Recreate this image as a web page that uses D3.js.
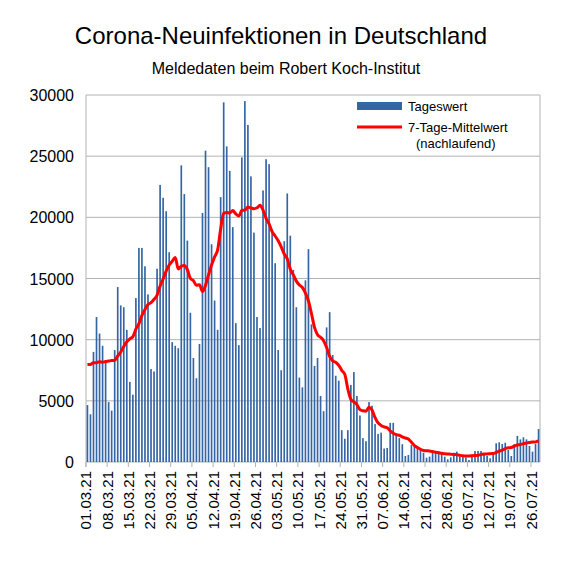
<!DOCTYPE html>
<html><head><meta charset="utf-8">
<script src="https://cdn.jsdelivr.net/npm/d3@7"></script>
<style>body{margin:0;background:#fff}svg{font-family:"Liberation Sans",Arial,sans-serif}</style>
</head><body><svg id="c" width="567" height="567"></svg>
<script>
// 6 days before 01.03.21 (for trailing 7-day mean)
const prevDays = [3883, 8007, 11869, 9997, 9762, 7676];
// daily values from 01.03.21
const daily = [4650,3900,9000,11850,10500,9500,8100,4900,4200,9150,14300,12800,12650,10800,6550,5500,
13400,17500,17500,16000,13700,7600,7400,15800,22650,21600,20500,17150,9800,9500,9300,24250,21900,18100,
12200,8500,6850,9650,20350,25450,24100,17800,13200,10800,21650,29400,25800,23800,19200,11350,9550,
24900,29500,27550,23350,18750,11850,10950,22200,24750,24350,18950,16250,9150,7500,18050,21950,18500,
15700,12650,6900,6100,14850,17400,11250,7850,8500,5400,4150,11000,12250,8750,7050,6650,2600,1900,2600,
6300,7350,5400,3800,1950,1700,4900,4600,3100,2300,2400,1100,1150,3200,3200,2300,1950,1450,490,570,1380,
1250,1170,980,760,350,440,980,900,850,710,440,220,380,760,850,440,440,380,160,570,900,900,900,710,490,
300,650,1530,1610,1470,1580,980,490,1470,2130,1850,2020,1850,1310,850,1470,2690];
const tickLabels = ["01.03.21","08.03.21","15.03.21","22.03.21","29.03.21","05.04.21","12.04.21","19.04.21",
"26.04.21","03.05.21","10.05.21","17.05.21","24.05.21","31.05.21","07.06.21","14.06.21","21.06.21",
"28.06.21","05.07.21","12.07.21","19.07.21","26.07.21"];
const yTicks = [0,5000,10000,15000,20000,25000,30000];

const all = prevDays.concat(daily);
const mean = daily.map((d,i)=>d3.mean(all.slice(i,i+7)));

const svg = d3.select("#c");
const L=86,R=540,T=95,B=462;
const x = d3.scaleBand().domain(d3.range(daily.length)).range([L,R]).paddingInner(0.45).paddingOuter(0.2);
const y = d3.scaleLinear().domain([0,30000]).range([B,T]);

svg.append("g").selectAll("line").data(yTicks).join("line")
 .attr("x1",L).attr("x2",R).attr("y1",d=>y(d)).attr("y2",d=>y(d)).attr("stroke","#b3b3b3");
svg.append("line").attr("x1",L).attr("x2",L).attr("y1",T).attr("y2",B+5).attr("stroke","#b3b3b3");
svg.append("line").attr("x1",R).attr("x2",R).attr("y1",T).attr("y2",B).attr("stroke","#b3b3b3");
svg.append("g").selectAll("text").data(yTicks).join("text")
 .attr("x",L-12).attr("y",d=>y(d)+6).attr("text-anchor","end").attr("font-size",16).text(d=>d);

svg.append("g").selectAll("rect").data(daily).join("rect")
 .attr("x",(d,i)=>x(i)).attr("width",x.bandwidth()).attr("y",d=>y(d)).attr("height",d=>B-y(d))
 .attr("fill","#3465a4");

const cx = i=>x(i)+x.bandwidth()/2;
svg.append("g").selectAll("line").data(tickLabels).join("line")
 .attr("x1",(d,i)=>cx(i*7)-1.5).attr("x2",(d,i)=>cx(i*7)-1.5).attr("y1",B).attr("y2",B+5).attr("stroke","#b3b3b3");
svg.append("g").selectAll("text").data(tickLabels).join("text")
 .attr("transform",(d,i)=>`translate(${cx(i*7)+4},${B+9}) rotate(-90)`)
 .attr("text-anchor","end").attr("font-size",15).text(d=>d);

svg.append("path").datum(mean).attr("fill","none").attr("stroke","#ff0000").attr("stroke-width",3)
 .attr("stroke-linejoin","round")
 .attr("d",d3.line().x((d,i)=>cx(i)).y(d=>y(d)).curve(d3.curveMonotoneX));

svg.append("text").attr("x",281).attr("y",44).attr("text-anchor","middle").attr("font-size",24).text("Corona-Neuinfektionen in Deutschland");
svg.append("text").attr("x",286).attr("y",74).attr("text-anchor","middle").attr("font-size",16).text("Meldedaten beim Robert Koch-Institut");

svg.append("rect").attr("x",357).attr("y",102).attr("width",45).attr("height",8).attr("fill","#3465a4");
svg.append("text").attr("x",408).attr("y",111).attr("font-size",13).text("Tageswert");
svg.append("line").attr("x1",357).attr("x2",402).attr("y1",127).attr("y2",127).attr("stroke","#ff0000").attr("stroke-width",3);
svg.append("text").attr("x",408).attr("y",132).attr("font-size",13).text("7-Tage-Mittelwert");
svg.append("text").attr("x",416).attr("y",148).attr("font-size",13).text("(nachlaufend)");
</script></body></html>
